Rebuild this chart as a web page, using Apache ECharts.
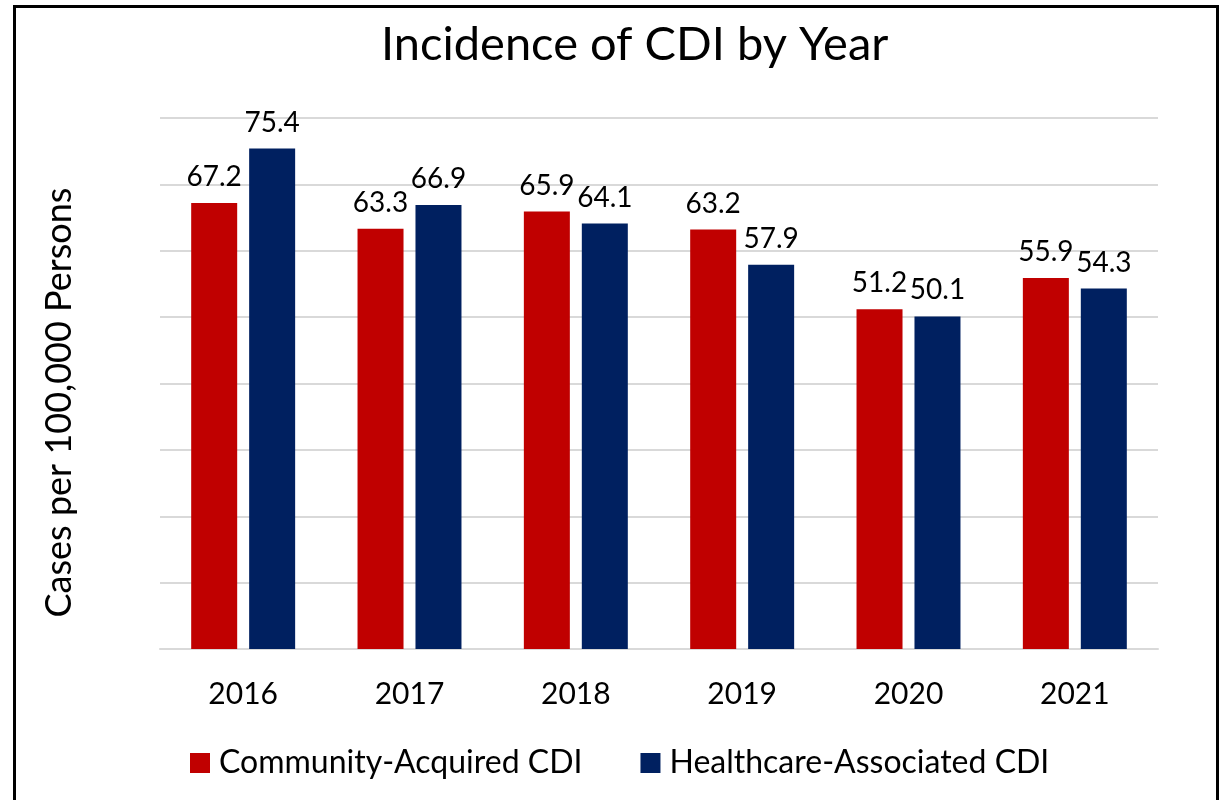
<!DOCTYPE html>
<html>
<head>
<meta charset="utf-8">
<script src="https://cdn.jsdelivr.net/npm/echarts@6/dist/echarts.min.js"></script>
<style>
  html, body { margin: 0; padding: 0; background: #fff; }
  #chart { width: 1222px; height: 800px; }
</style>
</head>
<body>
<div id="chart"></div>
<script>
// Incidence per 100,000 persons, by year
const years = ['2016', '2017', '2018', '2019', '2020', '2021'];
const communityAcquired = [67.2, 63.3, 65.9, 63.2, 51.2, 55.9];
const healthcareAssociated = [75.4, 66.9, 64.1, 57.9, 50.1, 54.3];
const seriesNames = ['Community-Acquired CDI', 'Healthcare-Associated CDI'];

const FONT = 'Lato, "Open Sans", sans-serif';

const chart = echarts.init(document.getElementById('chart'));

const labelStyle = {
  show: true,
  position: 'top',
  distance: 12,
  color: '#000',
  fontFamily: FONT,
  fontSize: 28,
  formatter: p => p.value.toFixed(1)
};

chart.setOption({
  backgroundColor: '#fff',
  animation: false,
  title: {
    text: 'Incidence of CDI by Year',
    left: 376,
    top: 16,
    textStyle: { fontFamily: FONT, fontSize: 47, fontWeight: 'normal', color: '#000' }
  },
  legend: {
    data: seriesNames,
    bottom: 16,
    left: 185,
    itemWidth: 20,
    itemHeight: 20,
    itemGap: 58,
    icon: 'rect',
    textStyle: { fontFamily: FONT, fontSize: 32, color: '#000', padding: [0, 0, 0, 4] }
  },
  grid: { left: 160, right: 64, top: 118, bottom: 151 },
  xAxis: {
    type: 'category',
    data: years,
    axisTick: { show: false },
    axisLine: { lineStyle: { color: '#d9d9d9', width: 2 } },
    axisLabel: { color: '#000', fontFamily: FONT, fontSize: 30, margin: 30 }
  },
  yAxis: {
    type: 'value',
    min: 0,
    max: 80,
    interval: 10,
    name: 'Cases per 100,000 Persons',
    nameLocation: 'middle',
    nameGap: 83,
    nameTextStyle: { fontFamily: FONT, fontSize: 36, color: '#000', padding: [0, 38, 0, 0] },
    axisLabel: { show: false },
    axisLine: { show: false },
    axisTick: { show: false },
    splitLine: { lineStyle: { color: '#d9d9d9', width: 2 } }
  },
  series: [
    {
      name: seriesNames[0],
      type: 'bar',
      data: communityAcquired,
      barWidth: 46,
      barGap: '26%',
      itemStyle: { color: '#c00000' },
      label: labelStyle
    },
    {
      name: seriesNames[1],
      type: 'bar',
      data: healthcareAssociated,
      barWidth: 46,
      itemStyle: { color: '#002060' },
      label: labelStyle
    }
  ],
  graphic: [
    {
      type: 'rect',
      shape: { x: 14.5, y: 6.5, width: 1203, height: 900 },
      style: { fill: 'none', stroke: '#000', lineWidth: 3 },
      silent: true
    }
  ]
});
</script>
</body>
</html>
